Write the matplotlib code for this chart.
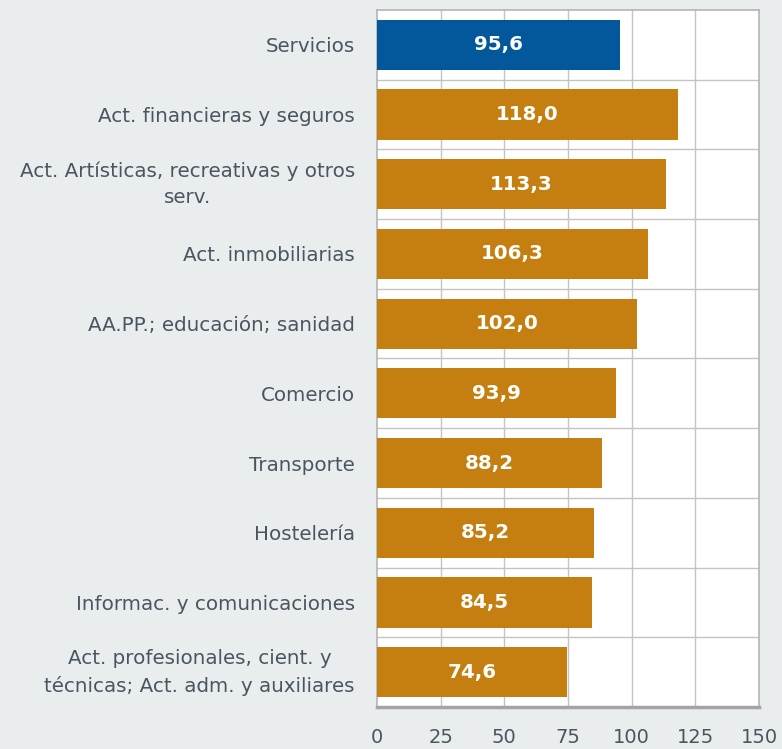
import matplotlib
matplotlib.use("Agg")
import matplotlib.pyplot as plt

categories = [
    "Servicios",
    "Act. financieras y seguros",
    "Act. Artísticas, recreativas y otros\nserv.",
    "Act. inmobiliarias",
    "AA.PP.; educación; sanidad",
    "Comercio",
    "Transporte",
    "Hostelería",
    "Informac. y comunicaciones",
    "Act. profesionales, cient. y\ntécnicas; Act. adm. y auxiliares",
]
values = [95.6, 118.0, 113.3, 106.3, 102.0, 93.9, 88.2, 85.2, 84.5, 74.6]
xticks = [0, 25, 50, 75, 100, 125, 150]

bg = "#e9edee"
blue = "#02589a"
orange = "#c57f10"
txt = "#4a5560"

fig = plt.figure(figsize=(7.82, 7.49), dpi=100, facecolor=bg)
ax = fig.add_axes([377 / 782, 1 - 707 / 749, 382 / 782, 697 / 749])
ax.set_facecolor("white")

ypos = list(range(len(categories)))
colors = [blue] + [orange] * (len(values) - 1)
bars = ax.barh(ypos, values, height=0.72, color=colors, zorder=3)

for b, v in zip(bars, values):
    ax.text(v / 2, b.get_y() + b.get_height() / 2, f"{v:.1f}".replace(".", ","),
            ha="center", va="center", color="white", fontsize=14.3,
            fontweight="bold", zorder=4)

ax.set_xlim(0, 150)
ax.set_ylim(len(categories) - 0.5, -0.5)
ax.set_xticks(xticks)
ax.set_xticklabels([str(t) for t in xticks])
ax.set_yticks(ypos)
ax.set_yticklabels(categories, multialignment="center", linespacing=1.5,
                   fontsize=14.3)

# two-line labels: centre the block instead of the baseline
for lab in ax.get_yticklabels():
    if "\n" in lab.get_text():
        lab.set_verticalalignment("center")

# grid: vertical at ticks, horizontal between categories
for t in xticks[1:-1]:
    ax.axvline(t, color="#c4c4c4", lw=1, zorder=1)
for k in range(1, len(categories)):
    ax.axhline(k - 0.5, color="#c4c4c4", lw=1, zorder=1)

for s in ["top", "right", "left"]:
    ax.spines[s].set_color("#b4b4b4")
    ax.spines[s].set_linewidth(1.2)
ax.spines["bottom"].set_color("#a4a4a4")
ax.spines["bottom"].set_linewidth(2.5)

ax.tick_params(axis="both", length=0, colors=txt, labelsize=14)
ax.tick_params(axis="y", pad=16, labelsize=14.3)
ax.tick_params(axis="x", pad=15)

fig.savefig("out.png", dpi=100, facecolor=bg)
